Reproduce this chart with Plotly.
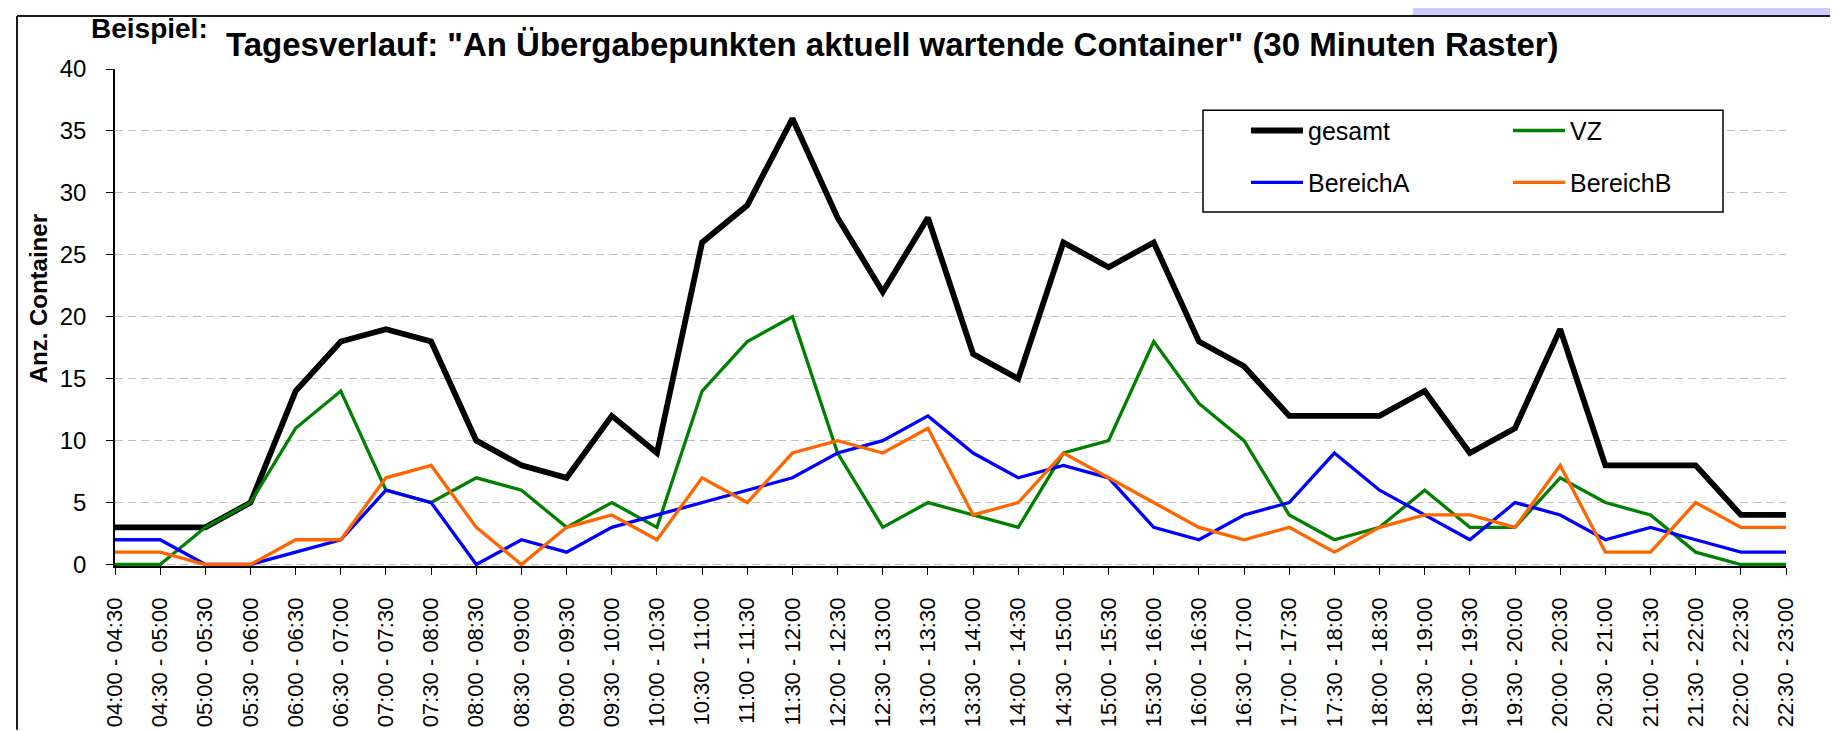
import plotly.graph_objects as go

categories = ["04:00 - 04:30", "04:30 - 05:00", "05:00 - 05:30", "05:30 - 06:00", "06:00 - 06:30",
              "06:30 - 07:00", "07:00 - 07:30", "07:30 - 08:00", "08:00 - 08:30", "08:30 - 09:00",
              "09:00 - 09:30", "09:30 - 10:00", "10:00 - 10:30", "10:30 - 11:00", "11:00 - 11:30",
              "11:30 - 12:00", "12:00 - 12:30", "12:30 - 13:00", "13:00 - 13:30", "13:30 - 14:00",
              "14:00 - 14:30", "14:30 - 15:00", "15:00 - 15:30", "15:30 - 16:00", "16:00 - 16:30",
              "16:30 - 17:00", "17:00 - 17:30", "17:30 - 18:00", "18:00 - 18:30", "18:30 - 19:00",
              "19:00 - 19:30", "19:30 - 20:00", "20:00 - 20:30", "20:30 - 21:00", "21:00 - 21:30",
              "21:30 - 22:00", "22:00 - 22:30", "22:30 - 23:00"]

gesamt = [3, 3, 3, 5, 14, 18, 19, 18, 10, 8, 7, 12, 9, 26, 29, 36, 28, 22, 28, 17, 15, 26, 24, 26,
          18, 16, 12, 12, 12, 14, 9, 11, 19, 8, 8, 8, 4, 4]
vz = [0, 0, 3, 5, 11, 14, 6, 5, 7, 6, 3, 5, 3, 14, 18, 20, 9, 3, 5, 4, 3, 9, 10, 18,
      13, 10, 4, 2, 3, 6, 3, 3, 7, 5, 4, 1, 0, 0]
bereich_a = [2, 2, 0, 0, 1, 2, 6, 5, 0, 2, 1, 3, 4, 5, 6, 7, 9, 10, 12, 9, 7, 8, 7, 3,
             2, 4, 5, 9, 6, 4, 2, 5, 4, 2, 3, 2, 1, 1]
bereich_b = [1, 1, 0, 0, 2, 2, 7, 8, 3, 0, 3, 4, 2, 7, 5, 9, 10, 9, 11, 4, 5, 9, 7, 5,
             3, 2, 3, 1, 3, 4, 4, 3, 8, 1, 1, 5, 3, 3]

y_ticks = [0, 5, 10, 15, 20, 25, 30, 35, 40]

FONT = "Arial, Liberation Sans, sans-serif"
W, H = 1838, 731
L, R, T, B = 107, 1778, 61, 568


def px2x(px):
    return (px - L) / (R - L)


def py2y(py):
    return (B - py) / (B - T)


fig = go.Figure()
fig.add_trace(go.Scatter(x=categories, y=gesamt, mode="lines", name="gesamt",
                         line=dict(color="#000000", width=5.8), legend="legend"))
fig.add_trace(go.Scatter(x=categories, y=vz, mode="lines", name="VZ",
                         line=dict(color="#008000", width=3.3), legend="legend"))
fig.add_trace(go.Scatter(x=categories, y=bereich_a, mode="lines", name="BereichA",
                         line=dict(color="#0000FF", width=3.3), legend="legend2"))
fig.add_trace(go.Scatter(x=categories, y=bereich_b, mode="lines", name="BereichB",
                         line=dict(color="#FF6600", width=3.3), legend="legend2"))

shapes = [
    # lavender strip top-right
    dict(type="rect", xref="paper", yref="paper", x0=px2x(1405), x1=px2x(1840),
         y0=py2y(-2), y1=py2y(7), fillcolor="#CCCCFF", line=dict(width=0), layer="above"),
    # outer frame (top + left)
    dict(type="line", xref="paper", yref="paper", x0=px2x(9), x1=px2x(1840),
         y0=py2y(7), y1=py2y(7), line=dict(color="#1a1a1a", width=2), layer="above"),
    dict(type="line", xref="paper", yref="paper", x0=px2x(9), x1=px2x(9),
         y0=py2y(7), y1=py2y(735), line=dict(color="#1a1a1a", width=2), layer="above"),
    # legend box
    dict(type="rect", xref="paper", yref="paper", x0=px2x(1195), x1=px2x(1715),
         y0=py2y(207), y1=py2y(103), fillcolor="#FFFFFF",
         line=dict(color="#000000", width=1.5), layer="above"),
]

annotations = [
    dict(text="<b>Beispiel:</b>", xref="paper", yref="paper", x=px2x(81), y=py2y(20),
         xanchor="left", yanchor="middle", showarrow=False,
         font=dict(family=FONT, size=28, color="#000000")),
    dict(text='<b>Tagesverlauf: "An Übergabepunkten aktuell wartende Container" (30 Minuten Raster)</b>',
         xref="paper", yref="paper", x=px2x(216), y=py2y(36),
         xanchor="left", yanchor="middle", showarrow=False,
         font=dict(family=FONT, size=33, color="#000000")),
    dict(text="<b>Anz. Container</b>", xref="paper", yref="paper", x=px2x(30), y=py2y(296),
         xanchor="center", yanchor="middle", textangle=-90, showarrow=False,
         font=dict(family=FONT, size=24, color="#000000")),
]

legend_common = dict(orientation="h", xanchor="left", yanchor="middle",
                     itemwidth=52, entrywidth=195, entrywidthmode="pixels",
                     bgcolor="rgba(0,0,0,0)", borderwidth=0,
                     font=dict(family=FONT, size=25, color="#000000"), traceorder="normal")

fig.update_layout(
    width=W, height=H,
    margin=dict(l=L, r=W - R, t=T, b=H - B, pad=0),
    paper_bgcolor="#FFFFFF", plot_bgcolor="#FFFFFF",
    font=dict(family=FONT, color="#000000"),
    showlegend=True,
    legend=dict(x=px2x(1238), y=py2y(124), **legend_common),
    legend2=dict(x=px2x(1238), y=py2y(177), **legend_common),
    shapes=shapes,
    annotations=annotations,
    hovermode=False,
)

fig.update_xaxes(
    type="category", range=[0, len(categories) - 1],
    showline=True, linecolor="#000000", linewidth=1.5,
    ticks="outside", ticklen=7, tickwidth=1, tickcolor="#000000",
    tickangle=-90, tickfont=dict(family=FONT, size=22, color="#000000"),
    showgrid=False, zeroline=False, ticklabelstandoff=14,
)
fig.update_yaxes(
    range=[-0.12, 40], tickvals=y_ticks,
    showline=True, linecolor="#000000", linewidth=1.5,
    ticks="outside", ticklen=7, tickwidth=1, tickcolor="#000000",
    tickfont=dict(family=FONT, size=24, color="#000000"),
    showgrid=True, gridcolor="#C0C0C0", gridwidth=1, griddash="8px,5px",
    zeroline=False, ticklabelstandoff=15,
)

fig.write_html("out.html")
